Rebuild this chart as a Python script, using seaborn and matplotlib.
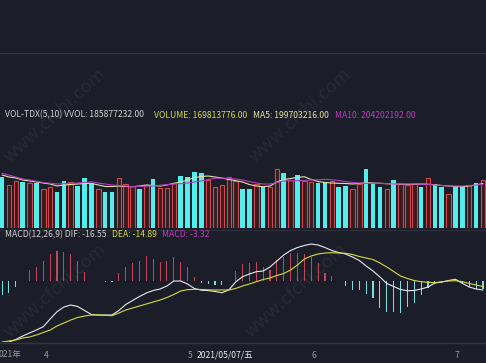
import numpy as np
import pandas as pd
import matplotlib
matplotlib.use('Agg')
import matplotlib.pyplot as plt
import seaborn as sns

# 成交量 (相对高度) 与涨跌
vol = [51, 43, 47, 46, 45, 45, 39, 41, 36, 47, 46, 42, 50, 44, 39, 36, 36, 50, 44, 42,
       39, 43, 49, 40, 40, 45, 52, 51, 56, 55, 48, 41, 43, 51, 47, 39, 39,
       44, 41, 41, 59, 55, 48, 53, 47, 46, 45, 46, 47, 41, 42, 39, 44, 59, 45, 41,
       39, 48, 44, 43, 44, 41, 50, 44, 41, 34, 41, 41, 43, 45, 48]
updown = list('cr' 'rcrcrrccrcccrccrrrcrcrrrccccrrrrrcc'
              'rcrrcrcrrccrccrrcccrcrrrcrccrccrcr')
ma5 = [53, 51, 50, 48, 47, 46, 45, 44, 42, 43, 43.5, 44, 44.5, 44.7, 43, 41.5, 41.5, 42, 41.5, 41.3,
       42, 43, 42.5, 42, 43, 44.7, 46, 48, 50.5, 51.5, 52, 51, 50, 48.5, 47.3, 46, 43.5, 42, 41.3, 42,
       46, 48.5, 49.5, 50.5, 51.3, 48.5, 46.5, 45.5, 45, 44.7, 44.5, 44, 44.5, 45.3, 45, 44.7, 44.3, 44,
       43.8, 43.7, 43.8, 44, 43.7, 43.3, 42.5, 42, 41.5, 41.3, 42, 43, 44.5]
ma10 = [54.7, 53, 51, 49, 48, 46.8, 45.5, 44.8, 44, 44.3, 44.6, 45, 45.6, 46.2, 45, 44, 43, 42.5, 42, 41.4,
        41.6, 41.8, 42, 42.7, 43.3, 44, 44.4, 45, 46, 47, 48.5, 49.7, 49.8, 49.7, 49, 48, 46.5, 45, 44, 44,
        45.5, 47, 47.3, 47.3, 47.6, 48, 48.3, 48.6, 48.2, 47.6, 46.5, 45.5, 45, 44.7, 44.7, 44.7, 44.4, 44,
        44, 44, 44, 44, 43.6, 43, 42.5, 42, 42, 42, 42.5, 43, 43.7]

# MACD
macd = [-14, -12, -6, 0.5, 11, 14, 20, 27, 30, 29, 27, 20, 9, 0.5, 0.5, -1, -1, 8, 14, 18,
        20, 25, 22, 19, 20, 24, 19, 14, 4, -2, -3, -4, -4, 0.5, 10, 17, 18,
        19, 14, 11, 21, 24, 28, 28, 27, 24, 18, 8, 5, 0.5, -5, -9, -9, -13, -17, -27, -31,
        -31, -32, -26, -22, -14, -7, -3, -2, 0.5, 2, -3, -6, -8, -8]
dif = [-63, -61, -58.5, -55, -52, -49, -45.7, -38, -30.7, -26, -24, -25.5, -29.5, -33.5, -34, -34, -34,
       -29.5, -23.5, -19.5, -15.5, -12, -9.5, -8, -5, 0, 0, -3, -7.5, -9.2, -9.6, -10.5, -11.7, -9, -1,
       4.3, 7, 9.3, 10, 14, 20, 26, 30.5, 33.5, 35.5, 37, 36, 33.5, 30.5, 28.5, 27, 24, 20.5, 15, 10, 4,
       -2.5, -5.5, -8.5, -9.7, -9.5, -8, -6, -2, -1, 0.5, 1.7, -2.3, -6, -8, -9]
dea = [-61, -60, -59, -57, -56, -54, -51.5, -49, -45, -42, -39, -36.5, -35, -34, -34, -34.3, -34.7,
       -32, -29, -27, -25, -23, -21, -19, -16.5, -13.5, -10, -8.7, -8.3, -8.5, -8.8, -9, -9, -9, -7.5,
       -5, -3, -0.7, 1.5, 3, 5.5, 7.5, 11, 16, 22, 25, 27, 28, 28.3, 28, 27.7, 26.5, 24.5, 23, 21.5, 18,
       14, 9.5, 5, 2.5, 0.5, -0.7, -1.3, -1.7, -0.8, 0, 0.3, -0.7, -2.5, -4, -5.5]

bg = '#1b1e28'
cyan = '#52eeee'
red_edge = '#d4474b'
red_fill = '#3a1b20'

sns.set_theme(style='dark')
plt.rcParams['font.family'] = ['Noto Sans CJK SC', 'DejaVu Sans']

W, H = 486, 363
fig = plt.figure(figsize=(W / 100, H / 100), dpi=100, facecolor=bg)


def px_axes(x0, y0, w, h):
    # 按像素位置建坐标轴 (y 从上往下)
    return fig.add_axes([x0 / W, 1 - (y0 + h) / H, w / W, h / H])


idx = np.arange(len(vol))
xlim = (-0.3, -0.3 + W / 6.87)

# 成交量
ax1 = px_axes(0, 120, W, 108)
df_vol = pd.DataFrame({'i': idx, 'vol': vol, 'kind': updown})
sns.barplot(data=df_vol, x='i', y='vol', hue='kind', palette={'c': cyan, 'r': red_fill},
            dodge=False, width=0.66, legend=False, ax=ax1, saturation=1)
for p in ax1.patches:
    if np.allclose(p.get_facecolor()[:3], matplotlib.colors.to_rgb(red_fill)):
        p.set_edgecolor(red_edge)
        p.set_linewidth(0.8)
    else:
        p.set_edgecolor('none')
ax1.plot(idx, ma5, color='#e6e0a4', lw=0.8)
ax1.plot(idx, ma10, color='#b33cc0', lw=0.8)
ax1.set_xlim(*xlim)
ax1.set_ylim(0, 108)
ax1.axis('off')

# MACD
ax2 = px_axes(0, 242, W, 100)
df_macd = pd.DataFrame({'i': idx, 'macd': macd, 'kind': ['r' if m > 0 else 'c' for m in macd]})
sns.barplot(data=df_macd, x='i', y='macd', hue='kind', palette={'c': '#7cdede', 'r': '#c0485a'},
            dodge=False, width=0.16, legend=False, ax=ax2, saturation=1)
for p in ax2.patches:
    p.set_edgecolor('none')
sns.lineplot(x=idx, y=dif, color='#e8e8f2', lw=0.8, ax=ax2)
sns.lineplot(x=idx, y=dea, color='#d8d840', lw=0.8, ax=ax2)
ax2.set_xlim(*xlim)
ax2.set_ylim(-61, 39)
ax2.axis('off')

# 分隔线
for yy, c in [(52.5, '#33363f'), (229.5, '#2c2f38'), (343, '#33363f')]:
    fig.add_artist(plt.Line2D([0, 1], [1 - yy / H, 1 - yy / H], color=c, lw=1))


def t(x, y, s, color, **kw):
    fig.text(x / W, 1 - y / H, s, color=color, fontsize=6.2, va='center', ha='left', **kw)


t(5, 115, 'VOL-TDX(5,10) VVOL: 185877232.00', '#cfcfcf')
t(154, 115, 'VOLUME: 169813776.00', '#d8d84a')
t(253, 115, 'MA5: 199703216.00', '#e6e0a4')
t(335, 115, 'MA10: 204202192.00', '#c03cc0')

t(5, 234.5, 'MACD(12,26,9) DIF: -16.55', '#cfcfcf')
t(112, 234.5, 'DEA: -14.89', '#d8d84a')
t(162, 234.5, 'MACD: -3.32', '#c03cc0')

t(-1, 355, '021年', '#9a9a9a')
t(44, 355, '4', '#9a9a9a')
t(188, 355, '5', '#9a9a9a')
t(197, 355, '2021/05/07/五', '#ececec')
t(311, 355, '6', '#9a9a9a')
t(455, 355, '7', '#9a9a9a')

# 水印
for cx, cy in [(55, 115), (300, 115), (55, 290), (296, 290)]:
    fig.text(cx / W, 1 - cy / H, 'www.cfchi.com', color='#9aa0b0', alpha=0.11, fontsize=13,
             rotation=42, ha='center', va='center')

fig.savefig('out.png', dpi=100, facecolor=bg)
